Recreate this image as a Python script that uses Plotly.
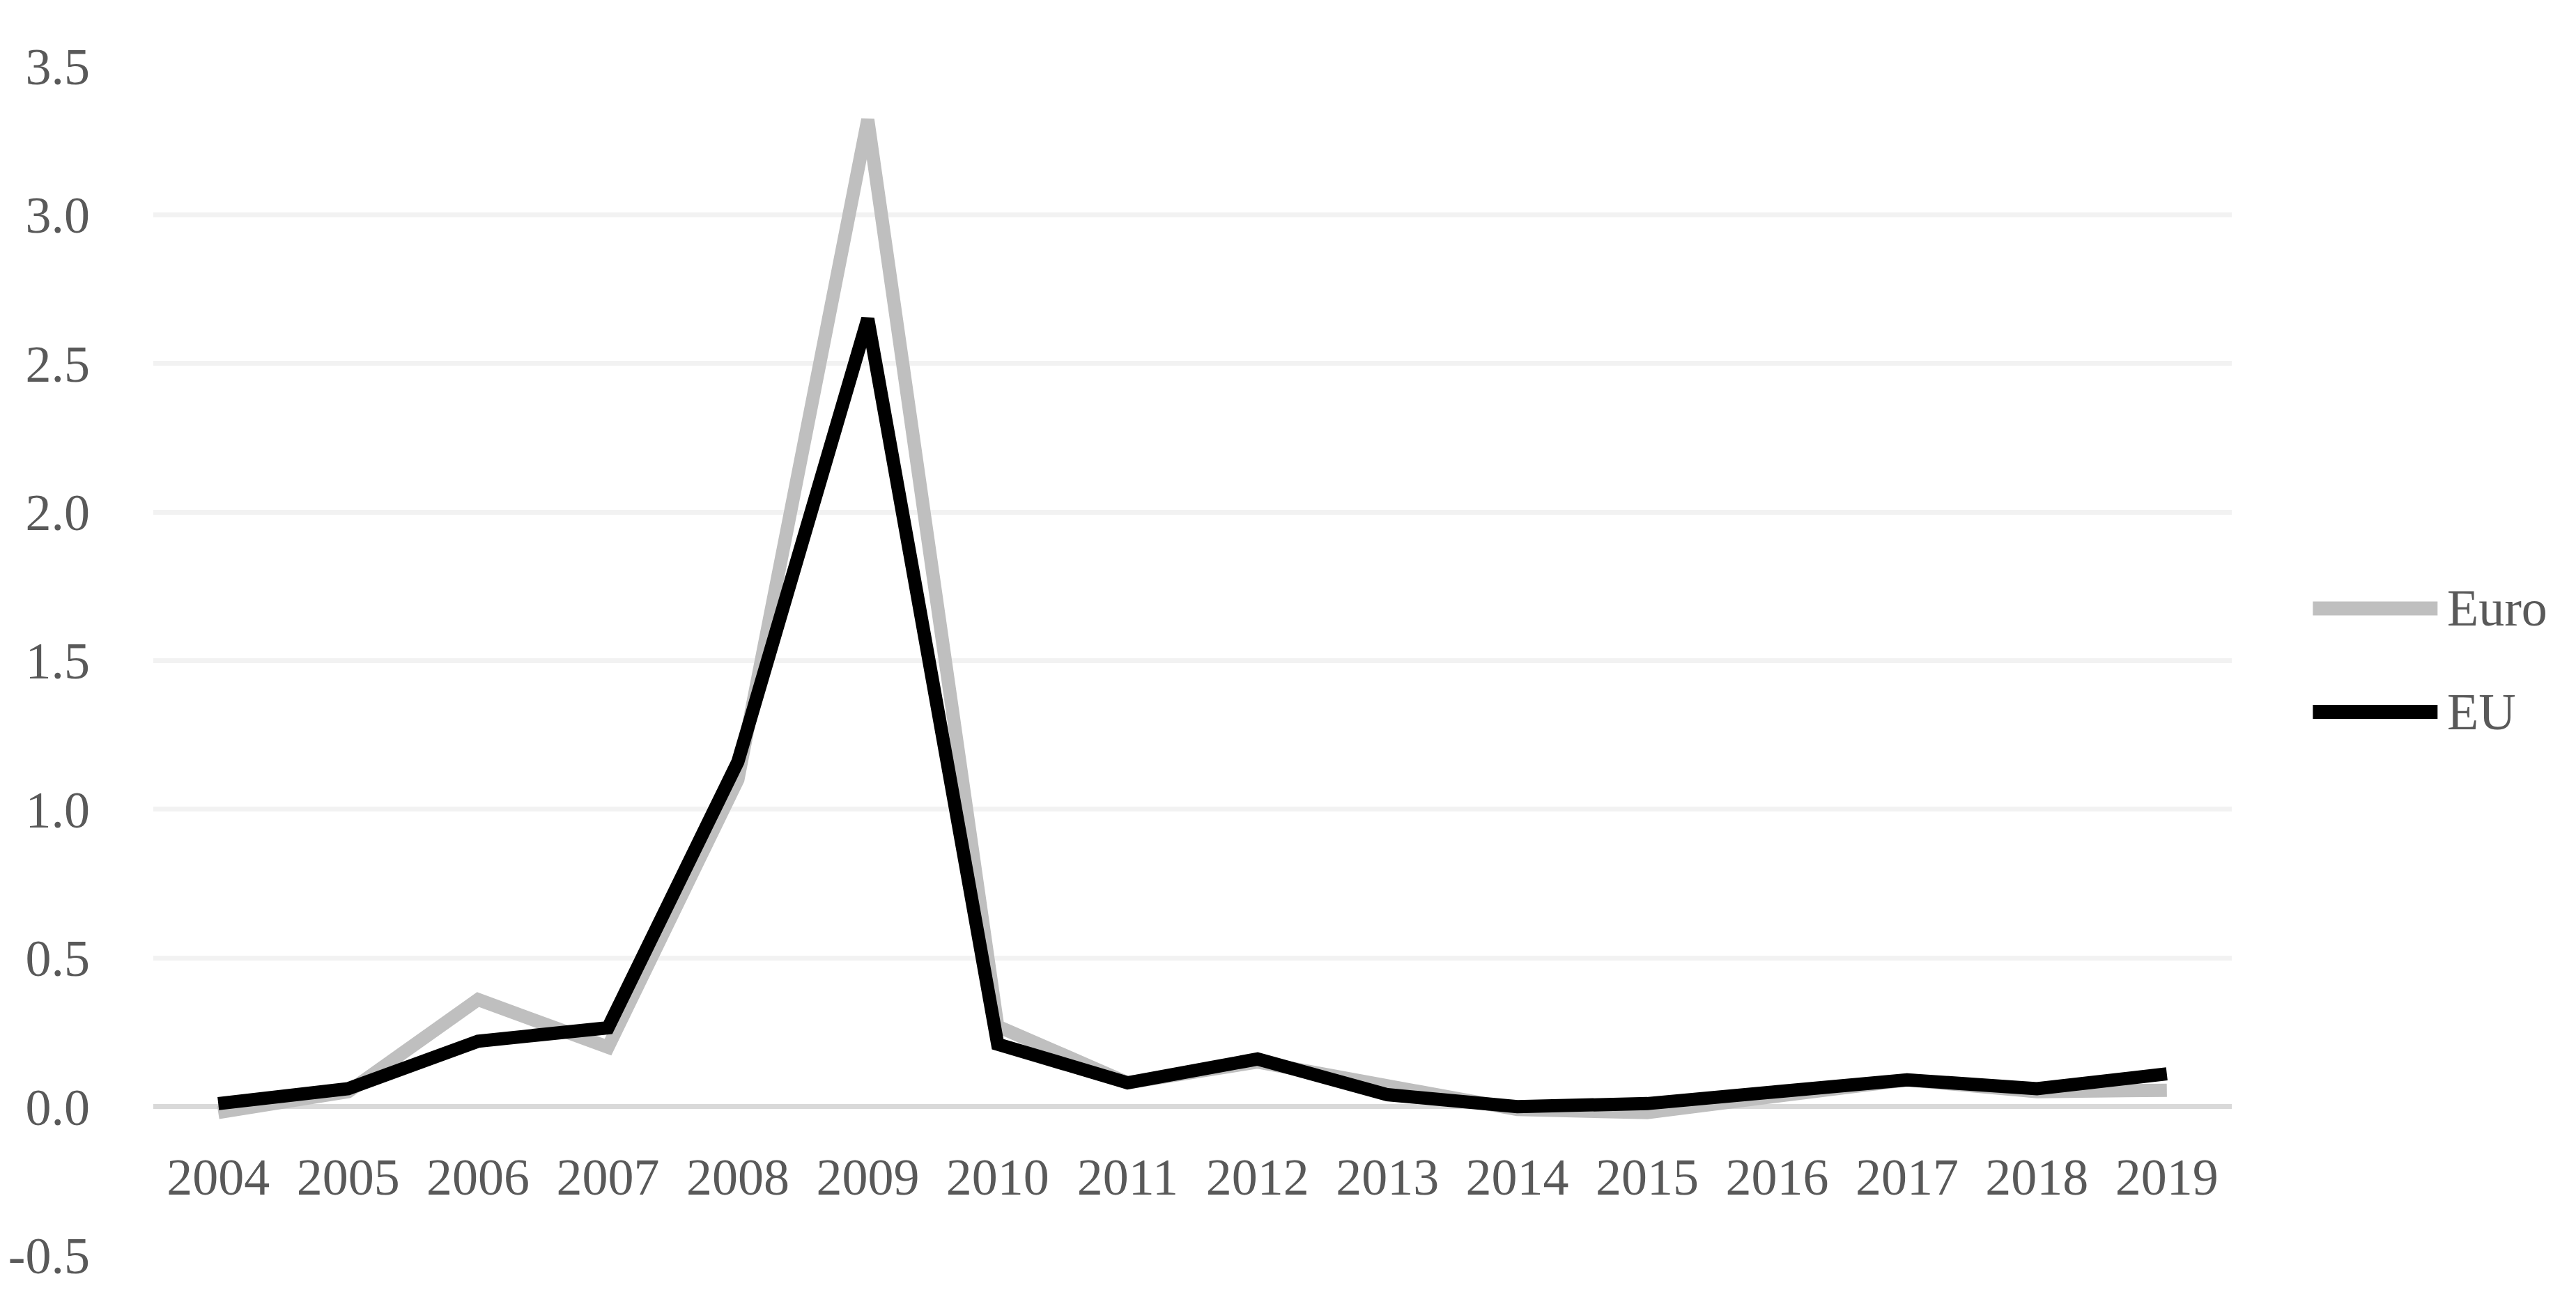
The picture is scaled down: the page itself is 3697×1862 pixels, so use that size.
import plotly.graph_objects as go

years = ["2004", "2005", "2006", "2007", "2008", "2009", "2010", "2011",
         "2012", "2013", "2014", "2015", "2016", "2017", "2018", "2019"]
euro = [-0.02, 0.05, 0.36, 0.20, 1.10, 3.32, 0.27, 0.08,
        0.15, 0.07, -0.01, -0.02, 0.04, 0.09, 0.05, 0.055]
eu = [0.01, 0.06, 0.22, 0.265, 1.16, 2.65, 0.21, 0.08,
      0.16, 0.04, 0.00, 0.01, 0.05, 0.09, 0.06, 0.11]
y_ticks = [-0.5, 0.0, 0.5, 1.0, 1.5, 2.0, 2.5, 3.0, 3.5]
y_tick_text = ["-0.5", "0.0", "0.5", "1.0", "1.5", "2.0", "2.5", "3.0", "3.5"]

font_name = "Liberation Serif"
text_col = "#595959"

fig = go.Figure()
fig.add_trace(go.Scatter(x=years, y=euro, mode="lines", name="Euro",
                         line=dict(color="#bfbfbf", width=19)))
fig.add_trace(go.Scatter(x=years, y=eu, mode="lines", name="EU",
                         line=dict(color="#000000", width=19)))

# legend drawn by hand so the key lines are long like the original
legend_items = [("Euro", "#bfbfbf", 0.544), ("EU", "#000000", 0.457)]
for label, col, ypos in legend_items:
    fig.add_shape(type="line", xref="paper", yref="paper",
                  x0=1.039, x1=1.099, y0=ypos, y1=ypos,
                  line=dict(color=col, width=20))
    fig.add_annotation(text=label, xref="paper", yref="paper",
                       x=1.103, y=ypos, xanchor="left", yanchor="middle",
                       showarrow=False,
                       font=dict(family=font_name, size=74, color=text_col))

fig.update_layout(
    width=3697, height=1862,
    margin=dict(l=212, r=502, t=87, b=68),
    plot_bgcolor="white", paper_bgcolor="white",
    showlegend=False,
    font=dict(family=font_name, size=74, color=text_col),
    xaxis=dict(
        type="category", range=[-0.5, len(years) - 0.5],
        anchor="free", position=0.125, automargin=False,
        showgrid=False, showline=False, zeroline=False, ticks="",
        ticklabelstandoff=51,
        tickfont=dict(family=font_name, size=74, color=text_col),
    ),
    yaxis=dict(
        range=[-0.5, 3.5], tickvals=y_ticks, ticktext=y_tick_text,
        automargin=False,
        showgrid=True, gridcolor="#f2f2f2", gridwidth=7,
        zeroline=True, zerolinecolor="#d9d9d9", zerolinewidth=7,
        showline=False, ticks="", ticklabelstandoff=90,
        tickfont=dict(family=font_name, size=74, color=text_col),
    ),
)

fig.write_html("out.html")
